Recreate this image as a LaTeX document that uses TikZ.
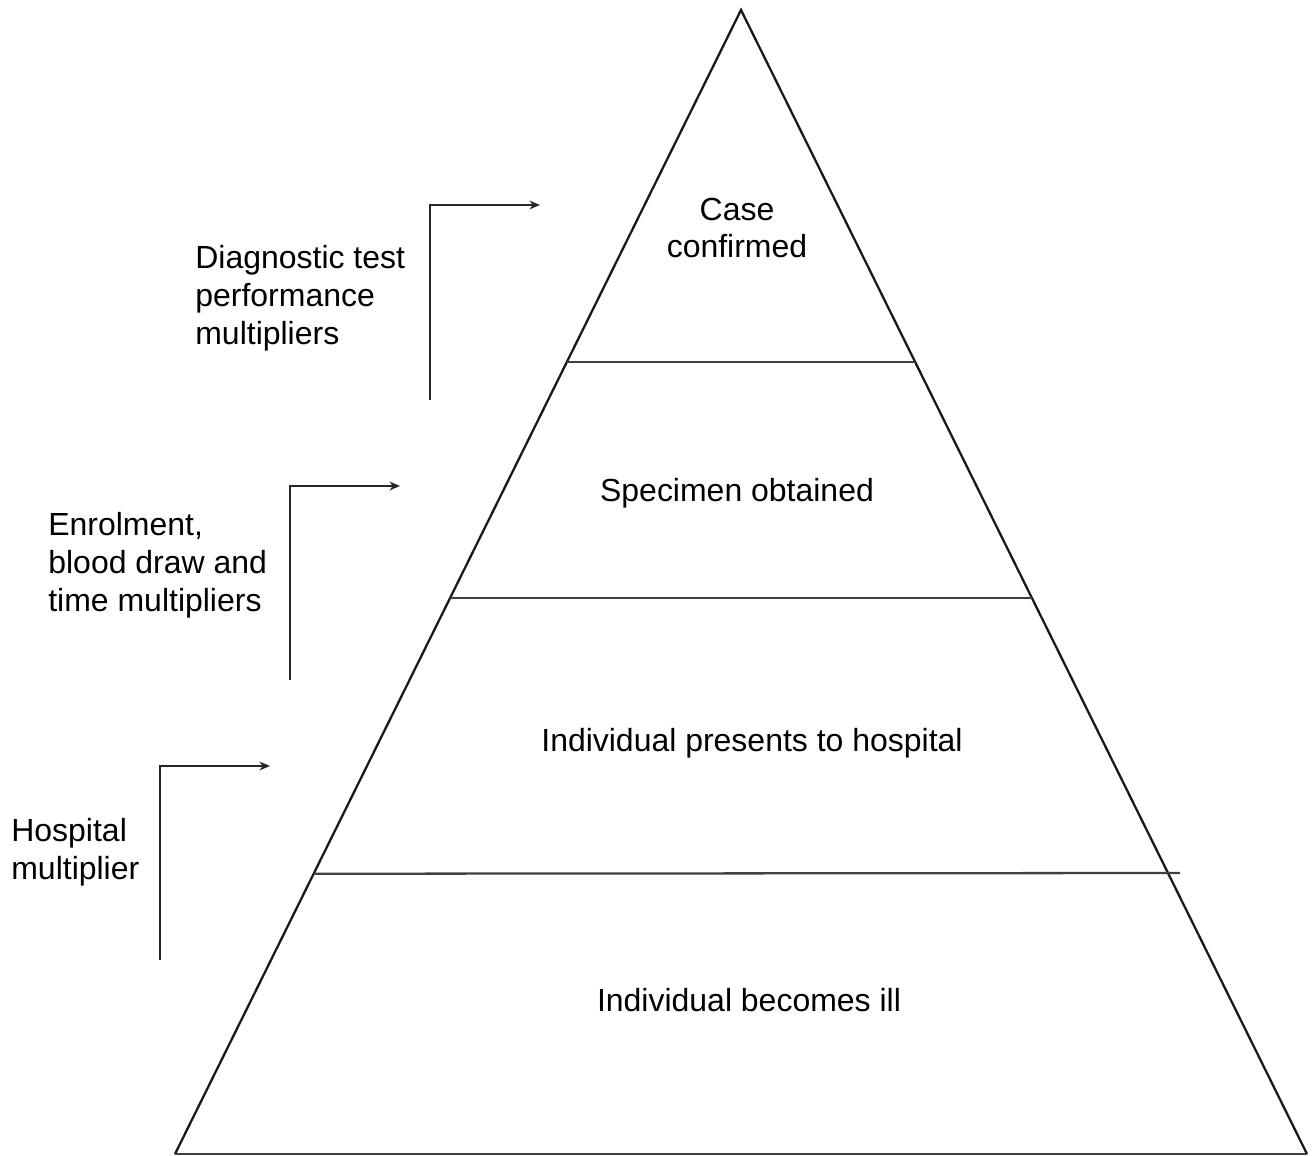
\documentclass[tikz,border=0pt]{standalone}
\usepackage{fontspec}
\setmainfont{Liberation Sans}
\usetikzlibrary{calc, arrows.meta}

\begin{document}
\begin{tikzpicture}[x=0.02cm, y=-0.02cm,
	tiertext/.style={font=\fontsize{18.2}{21.6}\selectfont, align=center, inner sep=0pt},
	sidetext/.style={font=\fontsize{18.2}{21.6}\selectfont, align=left, anchor=west, inner sep=0pt},
	edge line/.style={line width=1.3pt, black!90},
	tier line/.style={line width=1.3pt, black!75},
	bracket/.style={-{Stealth[length=6pt, width=5pt]}, line width=1.2pt, black!85}]
	\useasboundingbox (0,0) rectangle (1312,1156);

	\coordinate (apex) at (741,10);
	\coordinate (bl) at (175,1154);
	\coordinate (br) at (1307,1154);

	\draw[edge line, line join=miter] (bl) -- (apex) -- (br);
	\draw[tier line] (bl) -- (br);

	\draw[tier line] ($(apex)!0.308!(bl)$) -- ($(apex)!0.308!(br)$);
	\draw[tier line] ($(apex)!0.514!(bl)$) -- ($(apex)!0.514!(br)$);
	\draw[tier line] ($(apex)!0.755!(bl)$) -- (1180,873);

	\node[tiertext] (t1) at (737,228) {Case\\confirmed};
	\node[tiertext] (t2) at (737,493) {Specimen obtained};
	\node[tiertext] (t3) at (752,743) {Individual presents to hospital};
	\node[tiertext] (t4) at (749,1000) {Individual becomes ill};

	\node[sidetext] (m1) at (195,298) {Diagnostic test\\performance\\multipliers};
	\node[sidetext] (m2) at (48,565) {Enrolment,\\blood draw and\\time multipliers};
	\node[sidetext] (m3) at (11,852) {Hospital\\multiplier};

	\coordinate (m1a) at (430,400);
	\coordinate (m1b) at (540,205);
	\coordinate (m2a) at (290,680);
	\coordinate (m2b) at (400,486);
	\coordinate (m3a) at (160,960);
	\coordinate (m3b) at (270,766);

	\draw[bracket] (m1a) |- (m1b);
	\draw[bracket] (m2a) |- (m2b);
	\draw[bracket] (m3a) |- (m3b);
\end{tikzpicture}
\end{document}
